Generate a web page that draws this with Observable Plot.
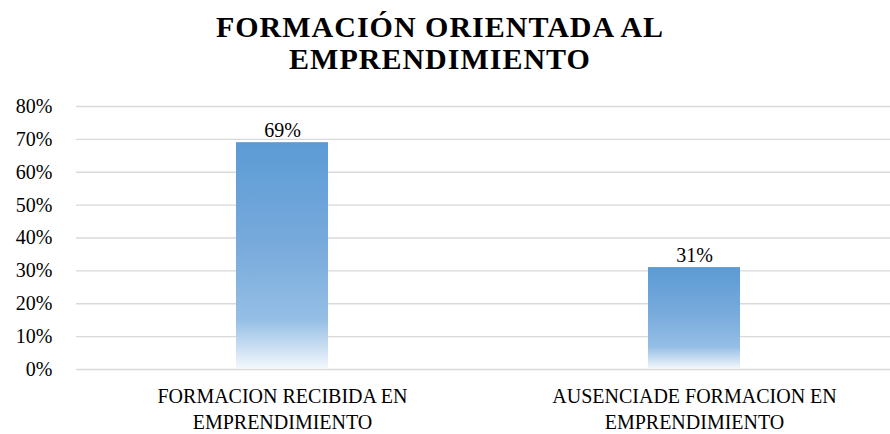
<!DOCTYPE html>
<html>
<head>
<meta charset="utf-8">
<script src="https://cdn.jsdelivr.net/npm/d3@7"></script>
<script src="https://cdn.jsdelivr.net/npm/@observablehq/plot@0.6"></script>
<style>
  html, body { margin: 0; padding: 0; background: #fff; }
  #title { width: 890px; height: 90px; box-sizing: border-box; padding-top: 11px; padding-right: 10px; text-align: center;
    font-family: "Liberation Serif", "Times New Roman", serif; font-weight: bold; font-size: 30px;
    line-height: 32px; letter-spacing: 1px; color: #000; }
  #chart svg { display: block; overflow: visible; }
  #chart svg text { font-family: "Liberation Serif", "Times New Roman", serif; }
</style>
</head>
<body>
<div id="title">FORMACIÓN ORIENTADA AL<br>EMPRENDIMIENTO</div>
<div id="chart"></div>
<script>
const categories = ["FORMACION RECIBIDA EN\nEMPRENDIMIENTO", "AUSENCIADE FORMACION EN\nEMPRENDIMIENTO"];
const values = [0.69, 0.31];
const valueLabels = ["69%", "31%"];
const yTicks = [0, 0.1, 0.2, 0.3, 0.4, 0.5, 0.6, 0.7, 0.8];

const data = categories.map((c, i) => ({category: c, value: values[i], label: valueLabels[i]}));

const chart = Plot.plot({
  width: 890,
  height: 344,
  marginTop: 16,
  marginBottom: 65,
  marginLeft: 76,
  marginRight: 0,
  style: {fontFamily: "'Liberation Serif', 'Times New Roman', serif", fontSize: "20px", color: "#000", background: "#fff"},
  x: {domain: categories, range: [76, 900], paddingInner: 0.777, paddingOuter: 0.3885, label: null},
  y: {domain: [0, 0.8], ticks: yTicks, tickFormat: d => Math.round(d * 100) + "%", label: null},
  marks: [
    Plot.ruleY(yTicks, {stroke: "#d9d9d9", strokeWidth: 1.3, strokeOpacity: 1}),
    Plot.barY(data, {x: "category", y: "value", fill: "url(#barGrad)"}),
    Plot.text(data, {x: "category", y: "value", text: "label", lineAnchor: "bottom", dy: -6, fontSize: 20, fill: "#000"}),
    Plot.axisY({ticks: yTicks, tickSize: 0, tickPadding: 24, tickFormat: d => Math.round(d * 100) + "%", fontSize: 20, label: null}),
    Plot.axisX({tickSize: 0, tickPadding: 15, fontSize: 20, lineHeight: 1.3, label: null})
  ]
});

const ns = "http://www.w3.org/2000/svg";
const defs = document.createElementNS(ns, "defs");
const grad = document.createElementNS(ns, "linearGradient");
grad.setAttribute("id", "barGrad");
grad.setAttribute("x1", "0"); grad.setAttribute("y1", "0");
grad.setAttribute("x2", "0"); grad.setAttribute("y2", "1");
[["0", "#5b9bd5"], ["0.45", "#78aadc"], ["0.78", "#94bee5"], ["0.9", "#c8ddf1"], ["1", "#f5f9fd"]].forEach(([o, c]) => {
  const s = document.createElementNS(ns, "stop");
  s.setAttribute("offset", o);
  s.setAttribute("stop-color", c);
  grad.appendChild(s);
});
defs.appendChild(grad);
chart.insertBefore(defs, chart.firstChild);
document.getElementById("chart").appendChild(chart);
</script>
</body>
</html>
